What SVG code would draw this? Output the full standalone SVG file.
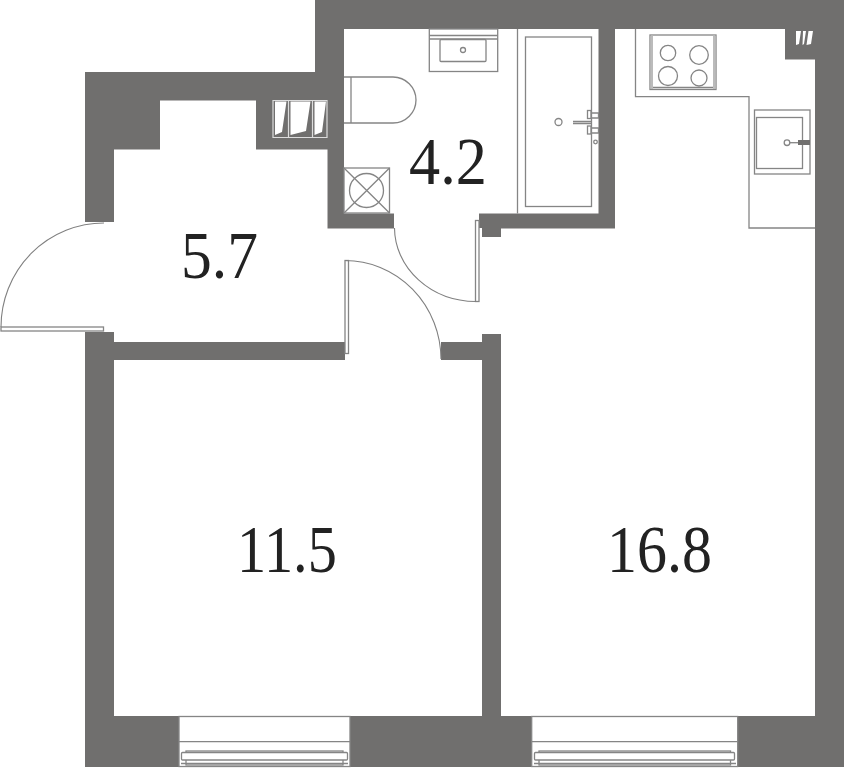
<svg xmlns="http://www.w3.org/2000/svg" width="845" height="768" viewBox="0 0 845 768">
<style>
.l{fill:none;stroke:#858585;stroke-width:1.3}
.f{fill:#fff;stroke:#858585;stroke-width:1.3}
.a{fill:none;stroke:#808080;stroke-width:1.1}
.t{font-family:"Liberation Serif",serif;fill:#222;font-size:67px}
</style>
<rect width="845" height="768" fill="#fff"/>
<g id="walls">
<path fill="#706f6e" d="M315 0H844V767H85V332H114V222H85V72H315Z"/>
<path fill="#fff" d="M160 100.500H256V149.500H327.500V228.500H394V213.500H344V29H598.500V213.500H479V228H482V237H501V228.500H615V29H785V59.500H815V716H501V334H482V342H441V360H482V716H114V360H345V342H114V149.500H160Z"/>
<rect x="84" y="222" width="31" height="110" fill="#fff"/>
</g>
<g id="wc">
<path class="l" d="M344 77H393A23 23 0 0 1 393 123H344M351 77V123"/>
<rect class="l" x="344" y="168" width="45.500" height="45"/>
<circle class="l" cx="366.500" cy="190.500" r="17"/>
<path class="l" d="M344 168L389.500 213M389.500 168L344 213"/>
<rect class="l" x="429.300" y="29" width="68.400" height="42.500"/>
<path class="l" d="M429.300 35.500H497.700M429.300 39H497.700"/>
<rect class="l" x="440" y="39.500" width="46" height="22" rx="1"/>
<circle class="l" cx="463" cy="50" r="2.500"/>
<path class="l" d="M517.500 29V213.500"/>
<rect class="l" x="525.500" y="37" width="66" height="169.500"/>
<circle class="l" cx="558.500" cy="122" r="3.500"/>
<path class="l" d="M573 121.500H592M573 123.500H592"/>
<rect class="l" x="587.500" y="110.500" width="3.500" height="8"/>
<rect class="l" x="587.500" y="126" width="3.500" height="8"/>
<path class="l" d="M591 113H598.500V118H591M591 128H598.500V133H591"/>
<circle class="l" cx="595.500" cy="142" r="1.800"/>
</g>
<g id="kitchen">
<path class="l" d="M635.500 29V96.700H749V228H815"/>
<rect class="l" x="650" y="35" width="66" height="54.500"/>
<rect x="650.500" y="35.500" width="2.500" height="53.500" fill="#bbb"/>
<rect x="713" y="35.500" width="2.500" height="53.500" fill="#bbb"/>
<path class="l" d="M653 87.500H713"/>
<circle class="l" cx="668" cy="53" r="7.700"/>
<circle class="l" cx="699" cy="55" r="9.300"/>
<circle class="l" cx="668" cy="76" r="9.500"/>
<circle class="l" cx="699" cy="78" r="8"/>
<rect class="l" x="754.500" y="110" width="55.500" height="64"/>
<rect class="l" x="756.500" y="117.500" width="46" height="51"/>
<circle class="l" cx="787" cy="142.700" r="2.800"/>
<path class="l" d="M790 142.700H798"/>
<rect x="798" y="140" width="12" height="5" fill="#706f6e"/>
</g>
<g id="vents" fill="#fff">
<path fill="none" stroke="#ddd" stroke-width="1.200" d="M273 100.500H327V137.500H273ZM288.500 101V137M312.500 101V137"/>
<path d="M275 101.500H286.500L282 132L275 135ZM290.500 101.500H310.500L306 131L290.500 135ZM314.500 101.500H326L322 132L314.500 135Z"/>
<path d="M796 31H801L799 44L796 45ZM803 31H806L804 44L802.500 45ZM808.500 31H813L811 44L806.500 45Z"/>
</g>
<g id="doors">
<rect class="f" x="1" y="327" width="102.500" height="4"/>
<path class="a" d="M1 327A103 104 0 0 1 104 223"/>
<rect class="f" x="475.500" y="220.500" width="3.500" height="81"/>
<path class="a" d="M394.500 228A82 74 0 0 0 476 301.500"/>
<rect class="f" x="345" y="260.500" width="3.500" height="93"/>
<path class="a" d="M345 260.500A96 99 0 0 1 441 359"/>
</g>
<g id="windows">
<rect class="f" x="179" y="716.500" width="171" height="50"/>
<path class="l" d="M179 741.700H350"/>
<rect class="l" x="186" y="751" width="157" height="14"/>
<rect class="f" x="181.500" y="752.500" width="166" height="7.500" rx="1"/>
<path class="l" d="M181 763.500H348"/>
<rect class="f" x="531.700" y="716.500" width="206" height="50"/>
<path class="l" d="M531.700 741.700H737.700"/>
<rect class="l" x="539" y="751" width="191.500" height="14"/>
<rect class="f" x="534.500" y="752.500" width="200" height="7.500" rx="1"/>
<path class="l" d="M534 763.500H736"/>
</g>
<g id="labels">
<text class="t" transform="translate(409 184) scale(.93 1)">4.2</text>
<text class="t" transform="translate(181 278) scale(.92 1)">5.7</text>
<text class="t" transform="translate(237 572) scale(.87 1)">11.5</text>
<text class="t" transform="translate(607 572) scale(.895 1)">16.8</text>
</g>
</svg>
